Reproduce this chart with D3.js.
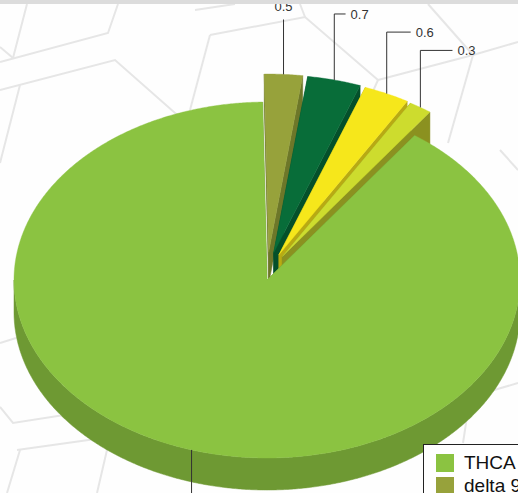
<!DOCTYPE html>
<html><head><meta charset="utf-8">
<script src="https://cdn.jsdelivr.net/npm/d3@7/dist/d3.min.js"></script>
<style>html,body{margin:0;padding:0;background:#fff;overflow:hidden}svg{display:block}</style>
</head><body>
<svg id="c" width="518" height="493"></svg>
<script>
// ---- data ----
const categories = ["THCA", "delta 9 THC", "CBDA", "CBGA", "CBN"];
const values = [18.5, 0.5, 0.7, 0.6, 0.3];
const valueLabels = ["18.5", "0.5", "0.7", "0.6", "0.3"];
const topColors = ["#8bc341", "#97a23b", "#086d39", "#f6e71b", "#cddc2e"];
const sideColors = ["#6e9933", "#6d7729", "#04502a", "#b8aa13", "#8b9120"];
const slicedFlags = [false, true, true, true, true];

// ---- layout ----
const W = 518, H = 493;
const cx = 267, cy = 280, rx = 253, ry = 178, depth = 32, explode = 28, labelDist = 68;
const startDeg = 35.7;

const svg = d3.select("#c");
svg.append("rect").attr("width", W).attr("height", H).attr("fill", "#fefefe");

// background decorative pattern
const pattern = [
  [[0,62],[108,33],[118,4]],
  [[0,90],[115,60],[200,135]],
  [[27,4],[13,58]],
  [[0,47],[13,58]],
  [[20,85],[0,163]],
  [[210,35],[305,17],[378,80]],
  [[305,17],[300,4]],
  [[210,35],[190,110]],
  [[195,10],[235,4]],
  [[378,80],[473,55]],
  [[378,80],[360,120]],
  [[428,4],[473,55]],
  [[473,55],[518,42]],
  [[473,55],[448,143]],
  [[500,150],[518,170]],
  [[470,397],[518,383]],
  [[470,397],[463,443]],
  [[0,343],[16,338]],
  [[0,407],[13,423],[77,413]],
  [[17,450],[110,437]],
  [[20,450],[7,493]],
  [[110,437],[97,493]]
];
const lineGen = d3.line();
svg.append("g").selectAll("path").data(pattern).join("path")
  .attr("d", d => lineGen(d)).attr("fill", "none")
  .attr("stroke", "#e6e6e6").attr("stroke-width", 2);

// ---- pie ----
const toRad = Math.PI / 180;
const pie = d3.pie().sort(null)
  .startAngle(startDeg * toRad).endAngle(startDeg * toRad + 2 * Math.PI);
const arcs = pie(values).map((a, i) => {
  const mid = (a.startAngle + a.endAngle) / 2;
  const off = slicedFlags[i] ? [explode * Math.sin(mid), -explode * Math.cos(mid)] : [0, 0];
  return {i, a0: a.startAngle, a1: a.endAngle, mid, off};
});

function P(ang, off, dz) {
  return [cx + off[0] + rx * Math.sin(ang), cy + off[1] - ry * Math.cos(ang) + (dz || 0)];
}
function arcPts(a0, a1, off, dz) {
  const n = Math.max(2, Math.ceil(Math.abs(a1 - a0) / (0.4 * toRad)));
  const pts = [];
  for (let k = 0; k <= n; k++) pts.push(P(a0 + (a1 - a0) * k / n, off, dz));
  return pts;
}
const closed = d3.line().curve(d3.curveLinearClosed);
const gPie = svg.append("g");

function drawWalls(s) {
  const c = [cx + s.off[0], cy + s.off[1]];
  [s.a0, s.a1].forEach(ang => {
    const e = P(ang, s.off);
    gPie.append("path").attr("d", closed([c, e, [e[0], e[1] + depth], [c[0], c[1] + depth]]))
      .attr("fill", sideColors[s.i]).attr("stroke", sideColors[s.i]).attr("stroke-width", 0.5);
  });
  for (let base = 0; base <= 2 * Math.PI; base += 2 * Math.PI) {
    const lo = Math.max(s.a0, base + Math.PI / 2), hi = Math.min(s.a1, base + 3 * Math.PI / 2);
    if (hi > lo) {
      const top = arcPts(lo, hi, s.off, 0);
      const bot = arcPts(lo, hi, s.off, depth).reverse();
      gPie.append("path").attr("d", closed(top.concat(bot)))
        .attr("fill", sideColors[s.i]).attr("stroke", sideColors[s.i]).attr("stroke-width", 0.5);
    }
  }
}
function drawTop(s) {
  const c = [cx + s.off[0], cy + s.off[1]];
  gPie.append("path").attr("d", closed([c].concat(arcPts(s.a0, s.a1, s.off, 0))))
    .attr("fill", topColors[s.i]).attr("stroke", topColors[s.i]).attr("stroke-width", 0.4);
}
arcs.filter(s => slicedFlags[s.i]).forEach(s => { drawWalls(s); drawTop(s); });
arcs.filter(s => !slicedFlags[s.i]).forEach(s => { drawWalls(s); drawTop(s); });

// ---- data labels ----
const gLab = svg.append("g");
arcs.forEach(s => {
  const anc = P(s.mid, s.off);
  const sn = Math.sin(s.mid), cs = Math.cos(s.mid);
  const ly = anc[1] - labelDist * cs;
  const lx = anc[0] + labelDist * sn;
  let pts, tx, anchor;
  if (Math.abs(sn) < 0.1) {
    pts = [anc, [anc[0], ly + 13 * Math.sign(cs)]];
    tx = anc[0]; anchor = "middle";
  } else {
    const dir = Math.sign(sn);
    pts = [anc, [anc[0], ly], [lx - 5 * dir, ly]];
    tx = lx; anchor = dir > 0 ? "start" : "end";
  }
  gLab.append("path").attr("d", d3.line()(pts)).attr("fill", "none")
    .attr("stroke", "#333").attr("stroke-width", 1);
  if (ly < H) {
    gLab.append("text").attr("x", tx).attr("y", ly).attr("dy", "0.35em")
      .attr("text-anchor", anchor).attr("font-family", "Liberation Sans, Arial, sans-serif")
      .attr("font-size", 13).attr("fill", "#333").text(valueLabels[s.i]);
  }
});

// ---- legend (only the rows that fall inside the picture) ----
const legX = 423, legY = 444, rowH = 23;
const gLeg = svg.append("g").attr("transform", `translate(${legX},${legY})`);
gLeg.append("rect").attr("x", 0.5).attr("y", 0.5).attr("width", 140).attr("height", 140)
  .attr("fill", "#ffffff").attr("stroke", "#222").attr("stroke-width", 1);
const shown = categories.map((d, i) => ({d, i})).filter(o => legY + 10 + o.i * rowH < H);
const items = gLeg.selectAll("g.it").data(shown).join("g").attr("class", "it")
  .attr("transform", o => `translate(13,${10 + o.i * rowH})`);
items.append("rect").attr("width", 18).attr("height", 18).attr("fill", o => topColors[o.i]);
items.append("text").attr("x", 28).attr("y", 15).attr("font-family", "Liberation Sans, Arial, sans-serif")
  .attr("font-size", 19).attr("fill", "#111").text(o => o.d);

// top bar
svg.append("rect").attr("width", W).attr("height", 4).attr("fill", "#dcdcdc");
</script>
</body></html>
